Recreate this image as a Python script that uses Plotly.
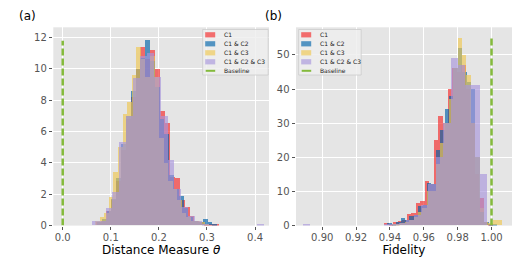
import plotly.graph_objects as go

series_names = ["C1", "C1 & C2", "C1 & C3", "C1 & C2 & C3"]
series_colors = ["rgb(245,40,40)", "rgb(0,100,170)", "rgb(240,200,80)", "rgb(168,150,220)"]
bar_opacity = 0.65
baseline_name = "Baseline"
baseline_color = "#84BA3C"

# ---- (a) Distance measure theta: histogram bins (density) ----
theta_start = [0.0705, 0.0720, 0.0680, 0.0610]
theta_width = [0.0102, 0.0100, 0.0095, 0.01432]
theta_c1 = [0.2, 0.3, 0.9, 1.6, 2.8, 4.8, 6.8, 8.2, 10.0, 11.4, 10.6, 11.2, 10.0,
            7.3, 6.5, 3.1, 3.0, 1.6, 1.2, 0.6, 0.3, 0.2, 0.1, 0.1, 0.1]
theta_c1c2 = [0.2, 0.4, 0.9, 1.7, 3.0, 5.2, 7.0, 8.6, 10.0, 10.7, 11.8, 10.5, 8.8,
              6.8, 5.8, 3.2, 2.3, 1.9, 1.1, 0.5, 0.3, 0.2, 0.4, 0.2, 0.1]
theta_c1c3 = [0.3, 0.5, 0.8, 1.8, 3.4, 5.0, 7.1, 7.9, 9.6, 11.4, 10.6, 9.5, 10.8,
              9.5, 5.6, 4.0, 2.8, 2.3, 1.6, 0.8, 0.5, 0.3, 0.3, 0.2, 0.1]
theta_c1c2c3 = [0.3, 0.3, 1.1, 2.1, 5.3, 7.0, 9.4, 10.8, 11.0, 9.5, 7.0, 4.2, 2.3,
                1.2, 0.6, 0.3, 0.1, 0.0, 0.0, 0.0, 0.0, 0.0, 0.0, 0.0, 0.1]
theta_baseline = 0.0

# ---- (b) Fidelity: histogram bins (density) ----
fid_start = [0.9365, 0.9385, 0.9410, 0.8886]
fid_width = [0.00268, 0.0026, 0.0026, 0.00436]
fid_c1 = [0.8, 0.5, 1.0, 1.3, 1.5, 3.3, 3.5, 6.5, 7.0, 13.0, 12.0, 25, 32, 30, 40,
          46, 45, 47, 40, 30, 15, 8, 1.0, 0.5, 0.0]
fid_c1c2 = [0.8, 0.5, 1.0, 2.2, 1.5, 2.8, 3.0, 5.8, 6.0, 12.5, 12.0, 22, 28, 34, 38,
            46, 52, 45, 42, 40, 20, 4, 1.0, 0.3, 0.3]
fid_c1c3 = [0.3, 0.5, 0.8, 1.0, 1.5, 2.5, 4.0, 5.0, 10, 10, 18, 24, 30, 37, 46,
            55, 50, 44, 30, 20, 5, 1.0, 0.8, 1.5, 1.5]
fid_c1c2c3 = [0.5, 0, 0, 0, 0, 0, 0, 0, 0, 0, 0, 0.2, 0.4, 0.8, 1.5, 3, 6, 12, 20,
              30, 49, 47, 41, 41, 15]
fid_baseline = 1.0

theta_tick_vals = [0.0, 0.1, 0.2, 0.3, 0.4]
theta_tick_text = ["0.0", "0.1", "0.2", "0.3", "0.4"]
theta_y_ticks = [0, 2, 4, 6, 8, 10, 12]
fid_tick_vals = [0.90, 0.92, 0.94, 0.96, 0.98, 1.00]
fid_tick_text = ["0.90", "0.92", "0.94", "0.96", "0.98", "1.00"]
fid_y_ticks = [0, 10, 20, 30, 40, 50]

W, H = 518, 259


def px(x):
    return x / W


def py(y):
    return 1 - y / H


fig = go.Figure()


def add_hist(heights, start, width, name, color, xa, ya):
    centers = [start + width * (i + 0.5) for i in range(len(heights))]
    fig.add_trace(go.Bar(
        x=centers, y=heights, width=width, name=name, showlegend=False,
        marker=dict(color=color, line=dict(width=0)), opacity=bar_opacity,
        xaxis=xa, yaxis=ya))


theta_series = [theta_c1, theta_c1c2, theta_c1c3, theta_c1c2c3]
fid_series = [fid_c1, fid_c1c2, fid_c1c3, fid_c1c2c3]

for k in range(4):
    add_hist(theta_series[k], theta_start[k], theta_width[k], series_names[k],
             series_colors[k], "x", "y")
theta_max = max(max(s) for s in theta_series)
fig.add_trace(go.Scatter(x=[theta_baseline, theta_baseline], y=[0, theta_max],
                         mode="lines", name=baseline_name, showlegend=False,
                         line=dict(color=baseline_color, width=2.5, dash="7px,3px"),
                         xaxis="x", yaxis="y"))

for k in range(4):
    add_hist(fid_series[k], fid_start[k], fid_width[k], series_names[k],
             series_colors[k], "x2", "y2")
fid_max = max(max(s) for s in fid_series)
fig.add_trace(go.Scatter(x=[fid_baseline, fid_baseline], y=[0, fid_max],
                         mode="lines", name=baseline_name, showlegend=False,
                         line=dict(color=baseline_color, width=2.5, dash="7px,3px"),
                         xaxis="x2", yaxis="y2"))

# ---- hand-drawn compact legends (matplotlib-like) ----
shapes = []
annotations = []


def add_legend(left, top, width, height):
    shapes.append(dict(type="rect", xref="paper", yref="paper",
                       x0=px(left), x1=px(left + width), y0=py(top + height), y1=py(top),
                       fillcolor="rgba(238,238,238,0.85)",
                       line=dict(color="#CCCCCC", width=0.8), layer="above"))
    row_h = 9.0
    labels = series_names + [baseline_name]
    for i, lab in enumerate(labels):
        cy = top + 5.3 + row_h * i
        if i < 4:
            shapes.append(dict(type="rect", xref="paper", yref="paper",
                               x0=px(left + 2.5), x1=px(left + 12.5),
                               y0=py(cy + 2.6), y1=py(cy - 2.6),
                               fillcolor=series_colors[i], opacity=bar_opacity,
                               line=dict(width=0), layer="above"))
        else:
            shapes.append(dict(type="line", xref="paper", yref="paper",
                               x0=px(left + 3), x1=px(left + 12.5),
                               y0=py(cy), y1=py(cy),
                               line=dict(color=baseline_color, width=2),
                               layer="above"))
        annotations.append(dict(text=lab, x=px(left + 19.5), y=py(cy),
                                xref="paper", yref="paper", xanchor="left",
                                yanchor="middle", showarrow=False,
                                font=dict(size=6, color="#222222")))


add_legend(202.7, 29.5, 65.5, 45.5)
add_legend(298.7, 29.5, 62.5, 45.5)

annotations.append(dict(text="(a)", x=px(17), y=py(16), xref="paper", yref="paper",
                        xanchor="left", yanchor="middle",
                        showarrow=False, font=dict(size=12, color="black")))
annotations.append(dict(text="(b)", x=px(263), y=py(16), xref="paper", yref="paper",
                        xanchor="left", yanchor="middle",
                        showarrow=False, font=dict(size=12, color="black")))

ydom = [py(225.6), py(27.3)]
axis_common = dict(showgrid=True, gridcolor="white", gridwidth=1, zeroline=False,
                   showline=False, ticks="outside", ticklen=3.5, tickwidth=1,
                   tickcolor="#555555", tickfont=dict(size=10, color="#555555"),
                   automargin=False)

fig.update_layout(
    width=W, height=H,
    margin=dict(l=0, r=0, t=0, b=0),
    paper_bgcolor="white", plot_bgcolor="#E5E5E5",
    barmode="overlay", bargap=0,
    font=dict(family="DejaVu Sans"),
    showlegend=False,
    xaxis=dict(domain=[px(53.3), px(269)], range=[-0.0196, 0.429],
               tickvals=theta_tick_vals, ticktext=theta_tick_text,
               ticklabelstandoff=-1,
               title=dict(text="Distance Measure <i>θ</i>",
                          font=dict(size=12, color="black"), standoff=0),
               anchor="y", **axis_common),
    yaxis=dict(domain=ydom, range=[0, 12.66], tickvals=theta_y_ticks,
               anchor="x", **axis_common),
    xaxis2=dict(domain=[px(296), px(512)], range=[0.8845, 1.0121],
                tickvals=fid_tick_vals, ticktext=fid_tick_text,
                ticklabelstandoff=-1,
                title=dict(text="Fidelity", font=dict(size=12, color="black"),
                           standoff=0),
                anchor="y2", **axis_common),
    yaxis2=dict(domain=ydom, range=[0, 58.1], tickvals=fid_y_ticks,
                anchor="x2", **axis_common),
    shapes=shapes,
    annotations=annotations,
)

fig.write_html("out.html", config={"displayModeBar": False},
               post_script="document.body.style.margin='0';")
